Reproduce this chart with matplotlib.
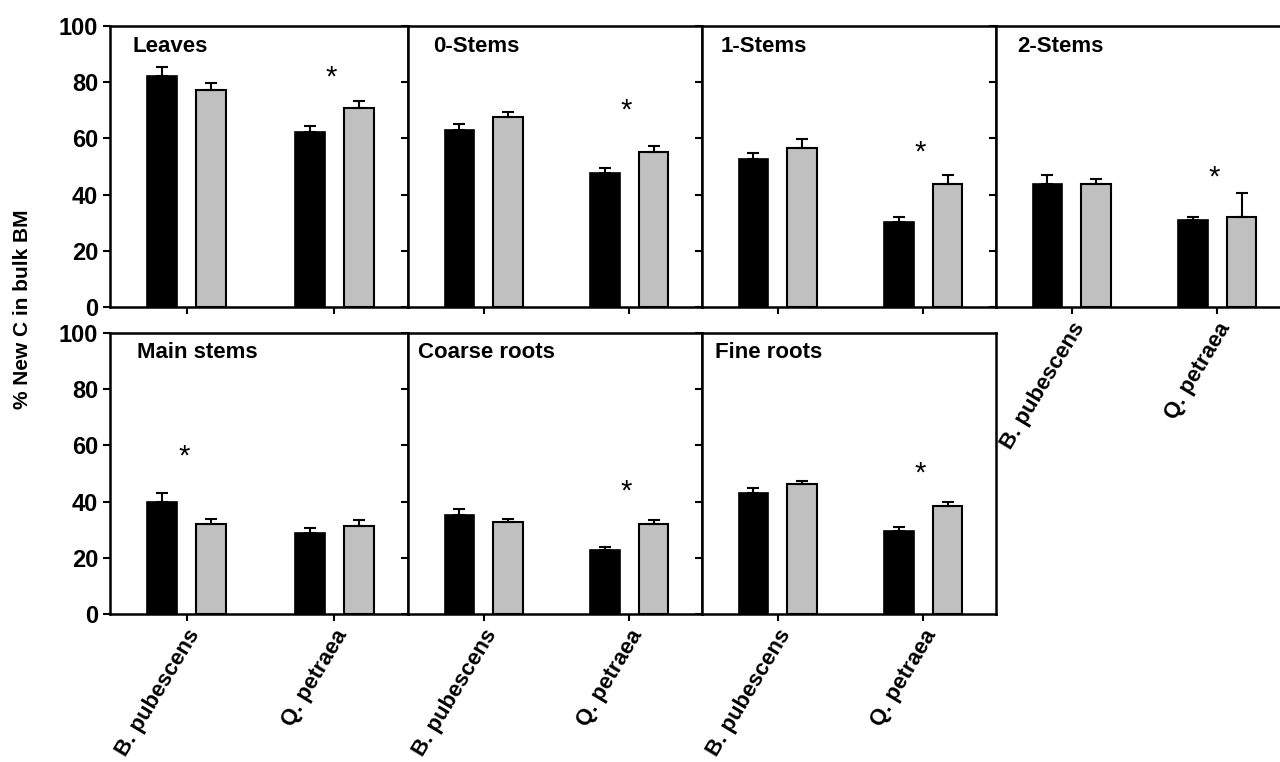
import matplotlib
matplotlib.use("Agg")
import matplotlib.pyplot as plt
import numpy as np

plt.rcParams['font.family'] = ['Liberation Sans', 'DejaVu Sans']

species = ["B. pubescens", "Q. petraea"]
panels = ["Leaves", "0-Stems", "1-Stems", "2-Stems", "Main stems", "Coarse roots", "Fine roots"]

# black series (mean, error) per panel, for B. pubescens and Q. petraea
black_vals = [[82.3, 62.4], [63.0, 47.7], [52.7, 30.2], [43.8, 30.8],
              [39.7, 28.9], [35.3, 22.7], [43.1, 29.5]]
black_err = [[3.2, 2.0], [2.0, 1.8], [2.0, 1.9], [3.2, 1.3],
             [3.3, 1.8], [2.0, 1.0], [1.8, 1.4]]
grey_vals = [[77.1, 70.7], [67.5, 55.2], [56.6, 43.7], [43.7, 32.0],
             [32.0, 31.3], [32.7, 32.0], [46.2, 38.4]]
grey_err = [[2.7, 2.6], [1.9, 2.1], [3.2, 3.2], [2.0, 8.5],
            [1.9, 2.0], [1.2, 1.3], [1.2, 1.5]]
# significance asterisk: (species index, height)
star_pos = [(1, 83.6), (1, 71.9), (1, 57.0), (1, 48.2),
            (0, 58.1), (1, 45.7), (1, 51.8)]

yticks = [0, 20, 40, 60, 80, 100]

W, H = 1280, 762
fig = plt.figure(figsize=(W / 100, H / 100), dpi=100)

col_edges = [110, 408, 702, 996, 1290]
row_tb = [(26, 307), (333, 614)]
title_dx = [22, 25, 19, 21, 27, 10, 13]

black_c = "#000000"
grey_c = "#c0c0c0"
bw = 0.204
off = 0.167

for i, name in enumerate(panels):
    r = 0 if i < 4 else 1
    c = i if i < 4 else i - 4
    left, right = col_edges[c], col_edges[c + 1]
    top, bot = row_tb[r]
    ax = fig.add_axes([left / W, 1 - bot / H, (right - left) / W, (bot - top) / H])
    x = np.arange(len(species))
    ax.bar(x - off, black_vals[i], bw, color=black_c, edgecolor='black', linewidth=1.2,
           yerr=[np.zeros(2), black_err[i]], error_kw=dict(ecolor='black', elinewidth=1.5,
                                                          capsize=4, capthick=1.5), zorder=2)
    ax.bar(x + off, grey_vals[i], bw, color=grey_c, edgecolor='black', linewidth=1.5,
           yerr=[np.zeros(2), grey_err[i]], error_kw=dict(ecolor='black', elinewidth=1.5,
                                                         capsize=4, capthick=1.5), zorder=2)
    si, sh = star_pos[i]
    ax.annotate("*", xy=(si - 0.02, sh), xytext=(0, -4), textcoords='offset points',
                ha='center', va='center', fontsize=21, color='black')
    ax.text(title_dx[i] / (right - left), 1 - 20 / (bot - top), name, transform=ax.transAxes,
            ha='left', va='center', fontsize=16, fontweight='bold')
    ax.set_ylim(0, 100)
    ax.set_xlim(-0.52, 1.5)
    ax.set_yticks(yticks)
    ax.set_xticks(x)
    for s in ax.spines.values():
        s.set_linewidth(1.8)
    ax.tick_params(axis='both', direction='out', length=5, width=1.5)
    if c == 0:
        ax.set_yticklabels([str(v) for v in yticks], fontsize=17, fontweight='bold')
    else:
        ax.set_yticklabels([])
    if r == 1 or c == 3:
        ax.set_xticklabels(species, rotation=59, ha='right', rotation_mode='anchor',
                           fontsize=16, fontweight='bold')
    else:
        ax.set_xticklabels([])

fig.text(23 / W, 1 - 309 / H, "% New C in bulk BM", rotation=90, ha='center', va='center',
         fontsize=15, fontweight='bold')

fig.savefig("out.png", dpi=100)
